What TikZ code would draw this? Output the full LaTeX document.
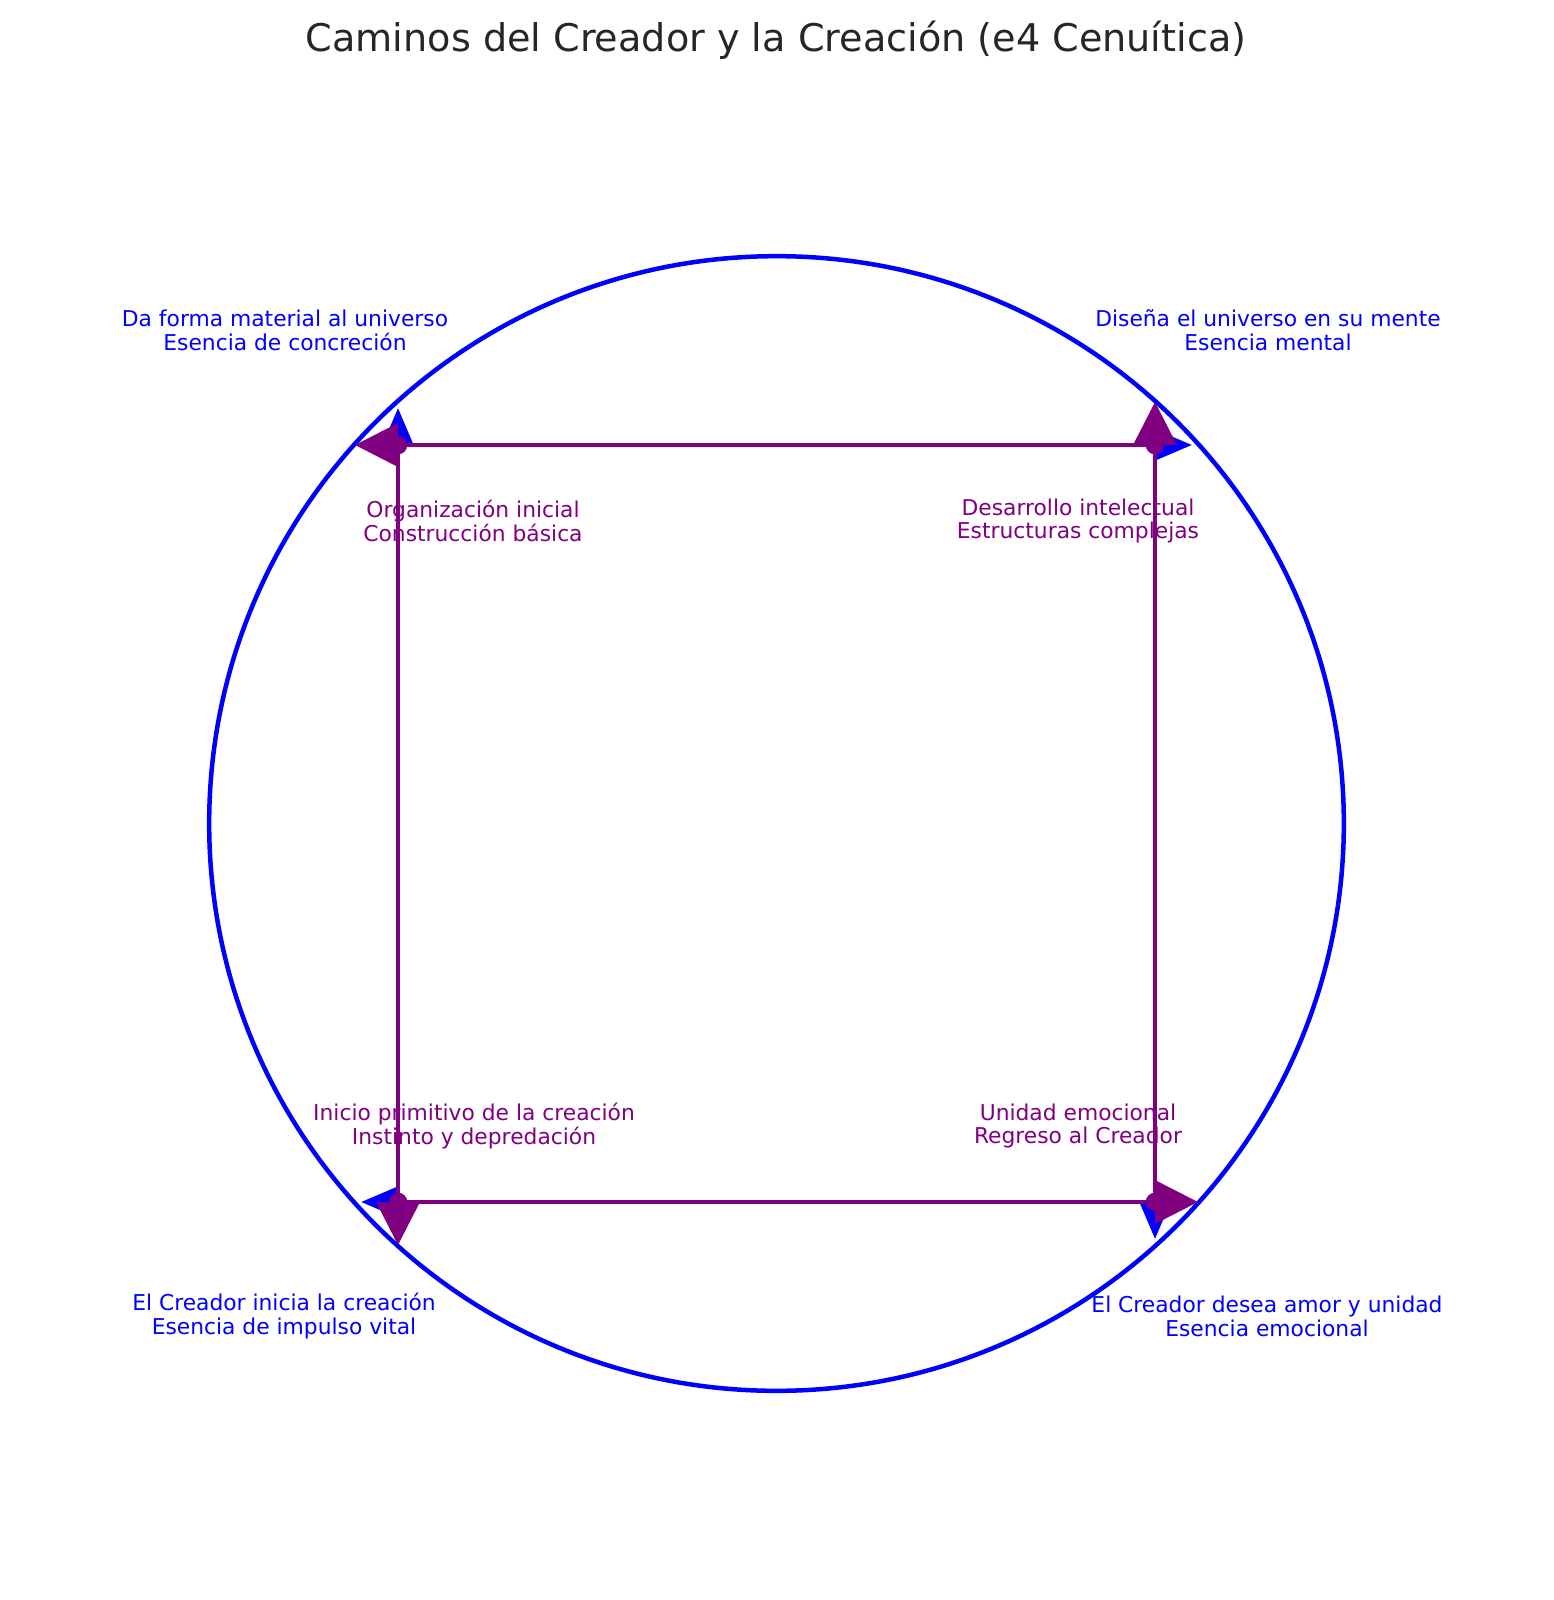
\documentclass[tikz,border=0pt]{standalone}
\usepackage{fontspec}
\setmainfont{DejaVu Sans}
\usepackage{xcolor}
\usepackage{tikz}
\usetikzlibrary{arrows.meta}
\definecolor{essblue}{RGB}{0,0,255}
\definecolor{pathpurple}{RGB}{128,0,128}
\definecolor{titlegray}{RGB}{38,38,38}

\begin{document}
\begin{tikzpicture}[x=0.01cm,y=-0.01cm,
    essline/.style={essblue, line width=0.046cm, dash pattern=on 0.17cm off 0.06cm,
        shorten >=-0.37cm, -{Triangle[length=0.37cm,width=0.3cm]}},
    pathline/.style={pathpurple, line width=0.036cm,
        shorten >=-0.43cm, -{Triangle[length=0.43cm,width=0.43cm]}},
    esslabel/.style={essblue, align=center, font=\fontsize{6.2}{6.8}\selectfont},
    pathlabel/.style={pathpurple, align=center, font=\fontsize{6.2}{6.8}\selectfont}]
    \useasboundingbox (0,0) rectangle (1553,1600);

    \coordinate (O) at (776.5,823.5);
    \coordinate (TL) at (398,445);
    \coordinate (TR) at (1155,445);
    \coordinate (BR) at (1155,1202);
    \coordinate (BL) at (398,1202);

    \node[titlegray, font=\fontsize{10.85}{13}\selectfont] (title) at (776,40)
        {Caminos del Creador y la Creación (e4 Cenuítica)};

    \draw[essblue, line width=0.045cm] (O) circle[radius=5.67cm];

    % esencias (azul)
    \draw[essline] (BL) -- (TL);
    \draw[essline] (TL) -- (TR);
    \draw[essline] (TR) -- (BR);
    \draw[essline] (BR) -- (BL);

    % camino de la creacion (morado)
    \draw[pathline] (BL) -- (BR);
    \draw[pathline] (BR) -- (TR);
    \draw[pathline] (TR) -- (TL);
    \draw[pathline] (TL) -- (BL);

    \foreach \c in {TL,TR,BR,BL}
        \filldraw[fill=pathpurple, draw=essblue!30!pathpurple, line width=0.005cm] (\c) circle[radius=0.09cm];

    \node[esslabel] (matter) at (285,330) {Da forma material al universo\\Esencia de concreción};
    \node[esslabel] (mind) at (1268,330) {Diseña el universo en su mente\\Esencia mental};
    \node[esslabel] (impulse) at (284,1316) {El Creador inicia la creación\\Esencia de impulso vital};
    \node[esslabel] (love) at (1267,1316) {El Creador desea amor y unidad\\Esencia emocional};

    \node[pathlabel] (organize) at (473,521) {Organización inicial\\Construcción básica};
    \node[pathlabel] (intellect) at (1078,521) {Desarrollo intelectual\\Estructuras complejas};
    \node[pathlabel] (primitive) at (474,1126) {Inicio primitivo de la creación\\Instinto y depredación};
    \node[pathlabel] (unity) at (1078,1126) {Unidad emocional\\Regreso al Creador};
\end{tikzpicture}
\end{document}
